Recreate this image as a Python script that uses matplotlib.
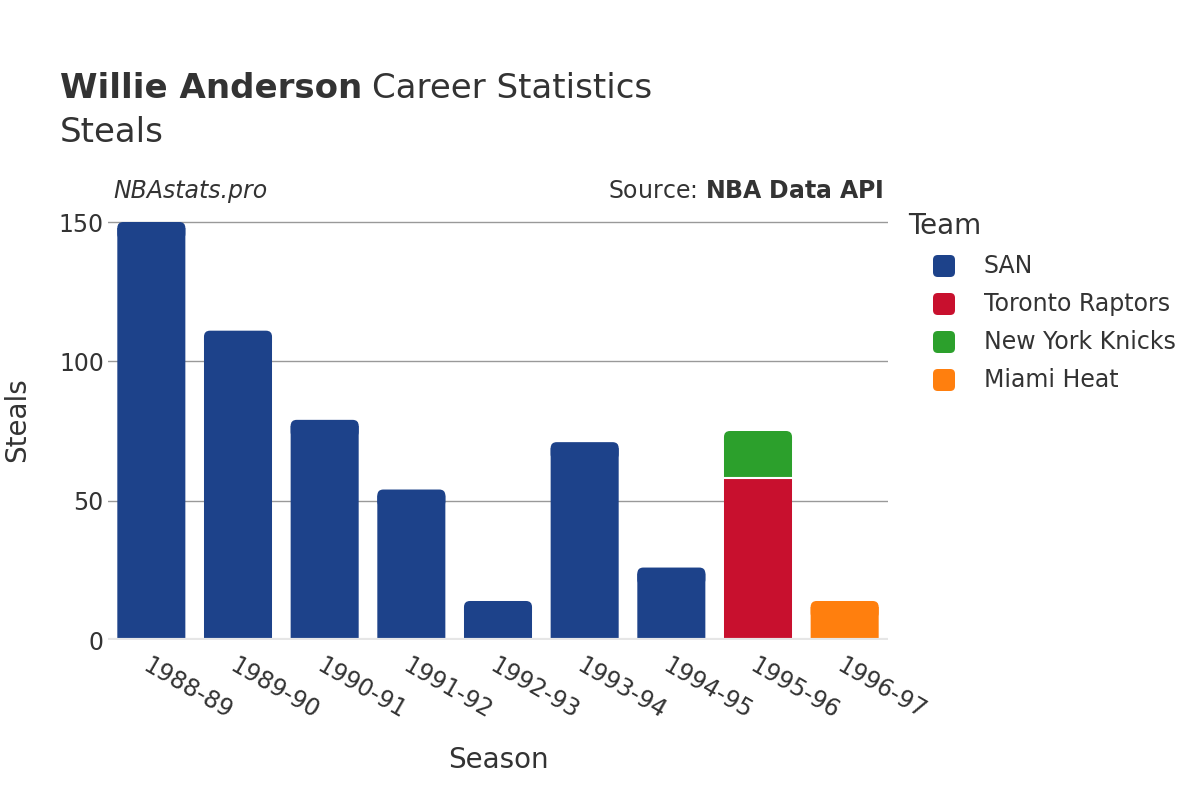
import matplotlib.pyplot as plt
from matplotlib.patches import FancyBboxPatch
import numpy as np

seasons = ['1988-89', '1989-90', '1990-91', '1991-92', '1992-93',
           '1993-94', '1994-95', '1995-96', '1996-97']
teams = ['SAN', 'Toronto Raptors', 'New York Knicks', 'Miami Heat']
colors = ['#1d428a', '#c8102e', '#2ca02c', '#ff7f0e']
# steals per team per season (stacked in this order)
san = [150, 111, 79, 54, 14, 71, 26, 0, 0]
tor = [0, 0, 0, 0, 0, 0, 0, 58, 0]
nyk = [0, 0, 0, 0, 0, 0, 0, 17, 0]
mia = [0, 0, 0, 0, 0, 0, 0, 0, 14]
series = [san, tor, nyk, mia]

txt = '#333333'
fig = plt.figure(figsize=(12, 8), dpi=100)
ax = fig.add_axes([108/1200, 160/800, 780/1200, 430/800])

x = np.arange(len(seasons))
ymax = 150 * 430 / 418
ax.set_xlim(-0.5, len(seasons) - 0.5)
ax.set_ylim(0, ymax)

# corner radius in data units (about 6 px)
rx = 6 / (780 / len(seasons))
ry = 6 / (430 / ymax)

bottom = np.zeros(len(seasons))
tops = {}
for vals, col, name in zip(series, colors, teams):
    vals = np.array(vals, dtype=float)
    bars = ax.bar(x, vals, 0.785, bottom=bottom, color=col, label=name,
                  linewidth=0, zorder=3)
    for i, b in enumerate(bars):
        b.set_snap(False)
        if vals[i] > 0:
            tops[i] = (b, col)
    bottom = bottom + vals

# round the top corners of each stack, white seam under stacked segments
for i, (b, col) in tops.items():
    bx, by = b.get_x(), b.get_y()
    w, h = b.get_width(), b.get_height()
    b.set_height(h - ry)
    p = FancyBboxPatch((bx, by + h - 3*ry), w, 3*ry,
                       boxstyle='round,pad=0,rounding_size=%f' % rx,
                       mutation_aspect=ry/rx, facecolor=col, edgecolor='none',
                       zorder=3, snap=False)
    ax.add_patch(p)
    if by > 0:
        ax.plot([bx, bx + w], [by, by], color='white', linewidth=1.5, zorder=4)

for s in ax.spines.values():
    s.set_visible(False)
ax.set_yticks([0, 50, 100, 150])
ax.yaxis.grid(True, color='#999999', linewidth=1, zorder=0)
ax.axhline(0, color='#e6e6e6', linewidth=3, zorder=4)
ax.tick_params(axis='both', length=0, labelsize=17, labelcolor=txt)
ax.tick_params(axis='y', pad=3)
ax.set_xticks(x)
ax.set_xticklabels(seasons, rotation=-30, ha='left', va='top', rotation_mode='anchor')
ax.tick_params(axis='x', pad=10)
for lab in ax.get_xticklabels():
    lab.set_x(lab.get_position()[0])

fig.text(17/1200, 1 - 420/800, 'Steals', rotation=90, ha='center', va='center',
         fontsize=20, color=txt)
fig.text(498/1200, 1 - 760/800, 'Season', ha='center', va='center',
         fontsize=20, color=txt)

t1 = fig.text(60/1200, 1 - 88/800, 'Willie Anderson', fontsize=24.5, color=txt,
              va='center', fontweight='bold')
fig.canvas.draw()
bb = t1.get_window_extent()
fig.text(bb.x1/1200 + 10/1200, 1 - 88/800, 'Career Statistics', fontsize=24.5,
         color=txt, va='center')
fig.text(60/1200, 1 - 132/800, 'Steals', fontsize=24.5, color=txt, va='center')

fig.text(113/1200, 1 - 191/800, 'NBAstats.pro', fontsize=17, style='italic',
         color=txt, va='center')
fig.text(884/1200, 1 - 191/800, r'Source: $\bf{NBA\ Data\ API}$', fontsize=17,
         color=txt, va='center', ha='right')

# legend
fig.text(908/1200, 1 - 226/800, 'Team', fontsize=20, color=txt, va='center')
for k, (name, col) in enumerate(zip(teams, colors)):
    yy = 266 + 38 * k
    fig.patches.append(FancyBboxPatch((933/1200, 1 - (yy + 11)/800), 22/1200, 22/800,
                                      boxstyle='round,pad=0,rounding_size=0.004',
                                      mutation_aspect=1.5, transform=fig.transFigure,
                                      facecolor=col, edgecolor='none', figure=fig))
    fig.text(984/1200, 1 - yy/800, name, fontsize=17, color=txt, va='center')

fig.savefig('out.png', dpi=100)
